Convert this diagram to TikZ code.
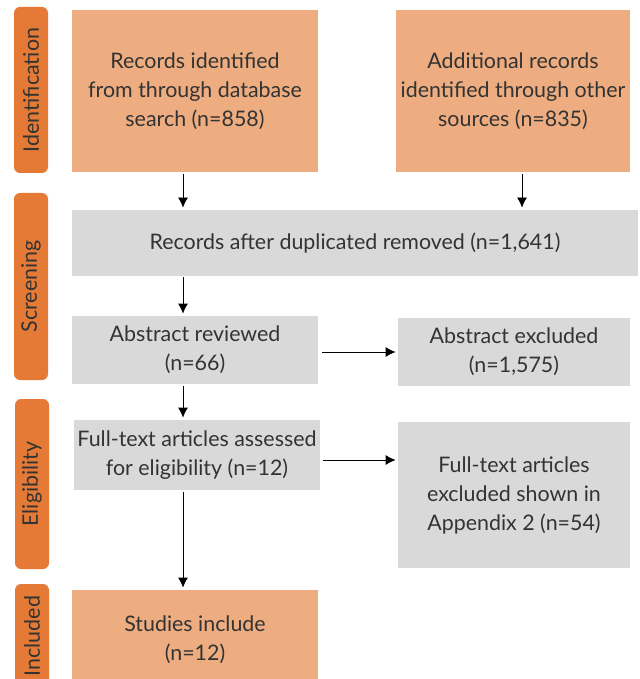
\documentclass[tikz,border=0pt]{standalone}
\usepackage{fontspec}
\setmainfont{Lato}
\usetikzlibrary{arrows.meta}

\definecolor{stageorange}{HTML}{E47A35}
\definecolor{boxorange}{HTML}{EDAD80}
\definecolor{boxgrey}{HTML}{D9D9D9}
\definecolor{textgrey}{HTML}{333333}

\tikzset{
  stage/.style={rectangle, rounded corners=3pt, fill=stageorange, rotate=90,
    minimum height=17pt, inner sep=0pt, text=textgrey},
  orangebox/.style={rectangle, fill=boxorange, align=center, inner sep=0pt, text=textgrey},
  greybox/.style={rectangle, fill=boxgrey, align=center, inner sep=0pt, text=textgrey}
}

\begin{document}
\begin{tikzpicture}[x=0.5pt, y=-0.5pt, >={Latex[length=5pt,width=5pt]}, font=\fontsize{10.7}{14.5}\selectfont]

    \useasboundingbox (0,0) rectangle (640,679);

    %define the stage labels on the left
    \node[stage, minimum width=83pt] (ident) at (31,90) {Identification};
    \node[stage, minimum width=93.5pt] (screen) at (31,286.5) {Screening};
    \node[stage, minimum width=85pt] (elig) at (32,484) {Eligibility};
    \node[stage, minimum width=52pt] (incl) at (32,636) {Included};

    %define the boxes
    \node[orangebox, minimum width=123pt, minimum height=81pt] (recdb) at (195,91) {Records identified\\from through database\\search (n=858)};
    \node[orangebox, minimum width=117pt, minimum height=81pt] (recother) at (513,91) {Additional records\\identified through other\\sources (n=835)};
    \node[greybox, minimum width=283pt, minimum height=33pt] (dup) at (355,243) {Records after duplicated removed (n=1,641)};
    \node[greybox, minimum width=123pt, minimum height=34pt] (abs) at (195,350) {Abstract reviewed\\(n=66)};
    \node[greybox, minimum width=116pt, minimum height=34pt] (absx) at (514,352) {Abstract excluded\\(n=1,575)};
    \node[greybox, minimum width=123pt, minimum height=35pt] (ft) at (197,455) {Full-text articles assessed\\for eligibility (n=12)};
    \node[greybox, minimum width=116pt, minimum height=73pt] (ftx) at (514,495) {Full-text articles\\excluded shown in\\Appendix 2 (n=54)};
    \node[orangebox, minimum width=123pt, minimum height=50pt] (stud) at (195,640) {Studies include\\(n=12)};

    %define the links
    \draw[->] ([xshift=-6pt,yshift=-1pt]recdb.south) -- ([xshift=-6pt,yshift=1pt]recdb.south |- dup.north);
    \draw[->] ([xshift=4.5pt,yshift=-1pt]recother.south) -- ([xshift=4.5pt,yshift=1pt]recother.south |- dup.north);
    \draw[->] ([xshift=-6pt,yshift=-0.5pt]dup.south -| abs.south) -- ([xshift=-6pt,yshift=1pt]abs.north);
    \draw[->] ([xshift=-6pt,yshift=-1pt]abs.south) -- ([xshift=-7pt,yshift=1pt]ft.north);
    \draw[->] ([xshift=-7pt,yshift=-1pt]ft.south) -- ([xshift=-6pt,yshift=1pt]stud.north);
    \draw[->] ([xshift=2pt,yshift=-1pt]abs.east) -- ([xshift=-1pt,yshift=-1pt]abs.east -| absx.west);
    \draw[->] ([xshift=1.5pt,yshift=-2.5pt]ft.east) -- ([xshift=-1pt,yshift=-2.5pt]ft.east -| ftx.west);
  \end{tikzpicture}
\end{document}
